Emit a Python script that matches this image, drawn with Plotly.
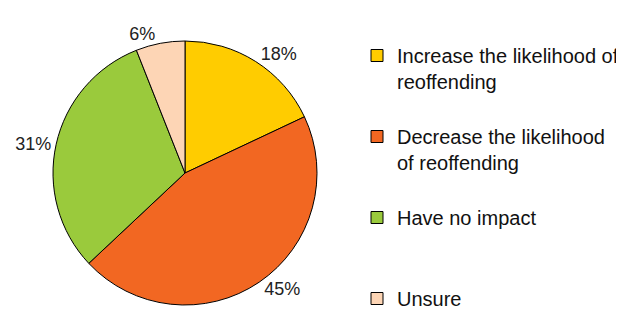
import plotly.graph_objects as go

categories = ["Increase the likelihood of<br>reoffending<br> ",
              "Decrease the likelihood<br>of reoffending<br> ",
              "Have no impact<br> <br> ",
              "Unsure"]
values = [18, 45, 31, 6]
colors = ["#FFCC00", "#F26722", "#9ACA3C", "#FDD5B5"]

# page body has an 8px margin, so the figure is offset by 8px
W, H = 616, 310
cx, cy, r = 177, 165, 132

fig = go.Figure(go.Pie(
    labels=categories,
    values=values,
    sort=False,
    direction="clockwise",
    rotation=0,
    marker=dict(colors=colors, line=dict(color="#000000", width=1)),
    texttemplate="%{value}%",
    textposition="outside",
    textfont=dict(family="Liberation Sans, Arial, sans-serif", size=18, color="#222222"),
    hoverinfo="label+percent",
    domain=dict(x=[(cx - r) / W, (cx + r) / W],
                y=[(H - cy - r) / H, (H - cy + r) / H]),
))

fig.update_layout(
    width=W, height=H,
    margin=dict(l=0, r=0, t=0, b=0),
    paper_bgcolor="white",
    plot_bgcolor="white",
    font=dict(family="Liberation Sans, Arial, sans-serif", size=20, color="#111111"),
    showlegend=True,
    legend=dict(
        x=349 / W, y=1 - 34 / H, xanchor="left", yanchor="top",
        valign="top",
        font=dict(size=20),
        bgcolor="rgba(0,0,0,0)",
        itemclick=False, itemdoubleclick=False,
    ),
)

fig.write_html("out.html")
